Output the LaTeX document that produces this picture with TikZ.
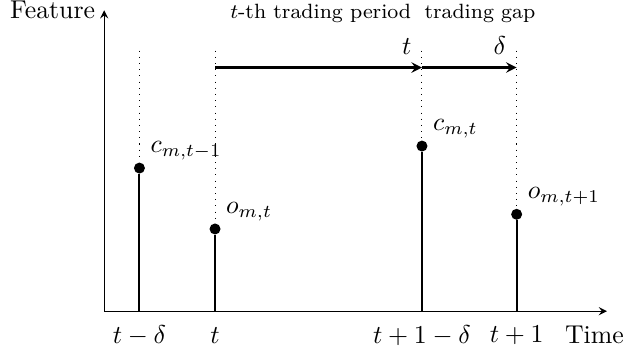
\documentclass[tikz,border=0pt]{standalone}
\usepackage{amsmath}
\usepackage{tikz}
\usetikzlibrary{arrows,positioning}

\begin{document}
\begin{tikzpicture}[>=stealth,
  stem/.style={thick},
  guide/.style={dotted},
  arr/.style={->, thick},
  pt/.style={circle, fill, inner sep=0pt, minimum size=0.15cm},
  lbl/.style={font=\footnotesize}]
\useasboundingbox (-1.42,-0.54) rectangle (7.11,4.24);

% Axes
\coordinate (o) at (0,0);
\coordinate (xend) at (6.85,0);
\coordinate (yend) at (0,4.10);
\draw[->] (o) -- (xend);
\draw[->] (o) -- (yend);
\node[left] (feat) at (yend) {Feature};
\node (time) at (6.68,-0.33) {Time};

% Ticks on the time axis
\coordinate (a0) at (0.48,0);
\coordinate (b0) at (1.51,0);
\coordinate (c0) at (4.33,0);
\coordinate (d0) at (5.62,0);
\node (ta) at (0.48,-0.33) {$t-\delta$};
\node (tb) at (1.51,-0.33) {$t$};
\node (tc) at (4.33,-0.33) {$t+1-\delta$};
\node (td) at (5.62,-0.33) {$t+1$};

% Tops of the dotted guides
\coordinate (a1) at (0.48,3.55);
\coordinate (b1) at (1.51,3.55);
\coordinate (c1) at (4.33,3.55);
\coordinate (d1) at (5.62,3.55);

% Prices
\node[pt] (ca) at (0.48,1.95) {};
\node[pt] (ob) at (1.51,1.12) {};
\node[pt] (cc) at (4.33,2.25) {};
\node[pt] (od) at (5.62,1.32) {};
\node[above right=-0.07cm and -0.03cm of ca] (caL) {$c_{m,t-1}$};
\node[above right=-0.07cm and -0.03cm of ob] (obL) {$o_{m,t}$};
\node[above right=-0.07cm and -0.03cm of cc] (ccL) {$c_{m,t}$};
\node[above right=-0.07cm and -0.03cm of od] (odL) {$o_{m,t+1}$};

\draw[stem] (a0) -- (ca);
\draw[stem] (b0) -- (ob);
\draw[stem] (c0) -- (cc);
\draw[stem] (d0) -- (od);
\draw[guide] (a1) -- (ca);
\draw[guide] (b1) -- (ob);
\draw[guide] (c1) -- (cc);
\draw[guide] (d1) -- (od);

% Periods
\coordinate (pb) at (1.51,3.32);
\coordinate (pc) at (4.33,3.32);
\coordinate (pd) at (5.62,3.32);
\draw[arr] (pb) -- (pc);
\draw[arr] (pc) -- (pd);
\node[above left=0.05cm and 0.02cm of pc] (tL) {$t$};
\node[above left=0.05cm and 0.02cm of pd] (dL) {$\delta$};
\node[lbl] (per) at (2.95,4.05) {$t$-th trading period};
\node[lbl] (gap) at (5.12,4.05) {trading gap};
\end{tikzpicture}
\end{document}
